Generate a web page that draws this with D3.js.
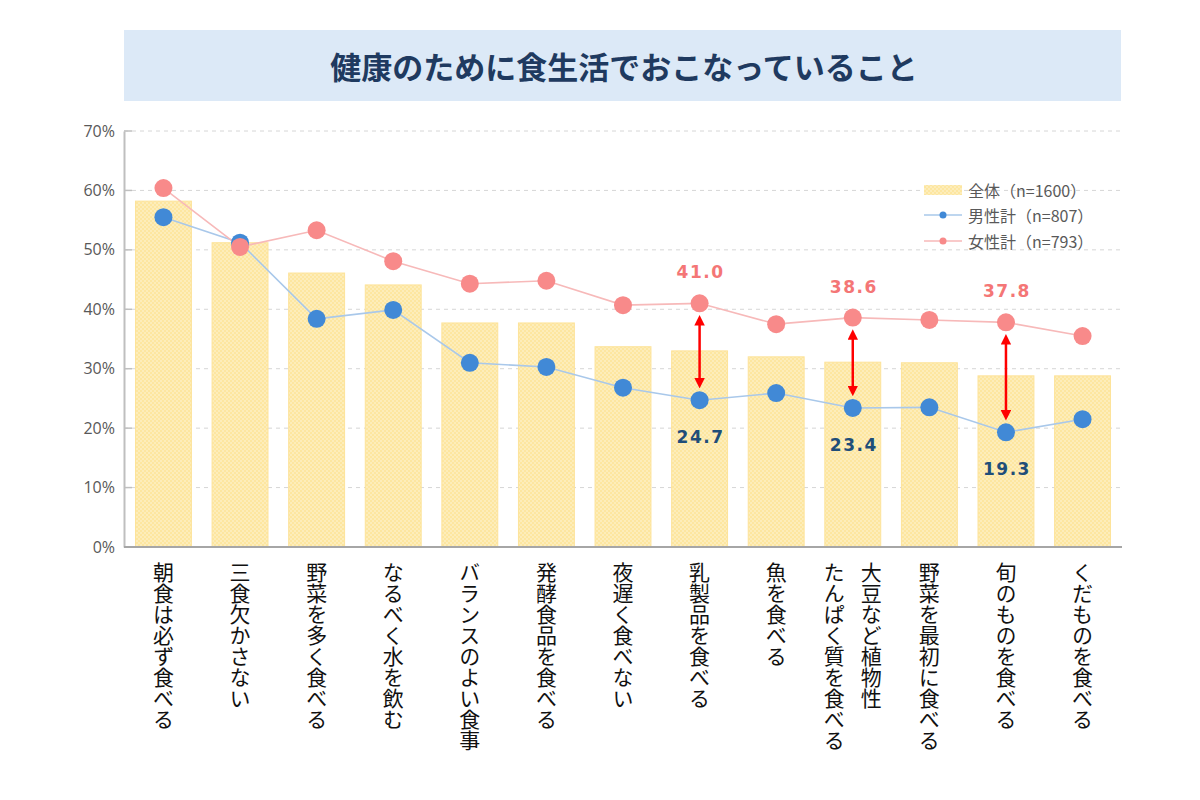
<!DOCTYPE html>
<html><head><meta charset="utf-8">
<script src="https://cdn.jsdelivr.net/npm/d3@7"></script>
<style>
body{margin:0;background:#fff;}
svg{display:block;}
</style></head>
<body>
<svg id="chart" width="1200" height="800"></svg>
<script>
const title = "健康のために食生活でおこなっていること";
const categories = [
  ["朝食は必ず食べる"],
  ["三食欠かさない"],
  ["野菜を多く食べる"],
  ["なるべく水を飲む"],
  ["バランスのよい食事"],
  ["発酵食品を食べる"],
  ["夜遅く食べない"],
  ["乳製品を食べる"],
  ["魚を食べる"],
  ["大豆など植物性","たんぱく質を食べる"],
  ["野菜を最初に食べる"],
  ["旬のものを食べる"],
  ["くだものを食べる"]
];
const totalValues = [58.2, 51.2, 46.1, 44.1, 37.7, 37.7, 33.7, 33.0, 32.0, 31.1, 31.0, 28.8, 28.8];
const maleValues   = [55.5, 51.2, 38.4, 39.9, 31.0, 30.3, 26.8, 24.7, 25.9, 23.4, 23.5, 19.3, 21.5];
const femaleValues = [60.4, 50.5, 53.3, 48.1, 44.3, 44.8, 40.7, 41.0, 37.5, 38.6, 38.2, 37.8, 35.5];
const highlighted = [7, 9, 11];
const yTicks = [0, 10, 20, 30, 40, 50, 60, 70];
const legendLabels = ["全体（n=1600）", "男性計（n=807）", "女性計（n=793）"];

const svg = d3.select("#chart");
const jp = "'Noto Sans CJK JP', 'Noto Sans', sans-serif";

// title box
svg.append("rect").attr("x",124).attr("y",30).attr("width",997).attr("height",71).attr("fill","#dce9f7");
svg.append("text").attr("x",624).attr("y",79).attr("text-anchor","middle")
  .attr("font-family",jp).attr("font-weight","bold").attr("font-size",31)
  .attr("fill","#1f3a60").text(title);

const pLeft=124, pRight=1122, pTop=131, pBottom=547;
const x = d3.scaleBand().domain(d3.range(categories.length)).range([pLeft,pRight]).paddingInner(0.27).paddingOuter(0.15);
const y = d3.scaleLinear().domain([0,70]).range([pBottom,pTop]);

// pattern
const defs = svg.append("defs");
const pat = defs.append("pattern").attr("id","dots").attr("width",4).attr("height",4).attr("patternUnits","userSpaceOnUse");
pat.append("rect").attr("width",4).attr("height",4).attr("fill","#fde6a0");
pat.append("circle").attr("cx",1).attr("cy",1).attr("r",0.8).attr("fill","#fff6dc");
pat.append("circle").attr("cx",3).attr("cy",3).attr("r",0.8).attr("fill","#fff6dc");

defs.append("marker").attr("id","arr").attr("viewBox","0 0 10 10")
  .attr("refX",5).attr("refY",5).attr("markerWidth",4.2).attr("markerHeight",4.2).attr("orient","auto-start-reverse")
  .attr("markerUnits","strokeWidth")
  .append("path").attr("d","M0,0 L10,5 L0,10 z").attr("fill","#ff0000");

// gridlines
svg.append("g").selectAll("line").data(yTicks.filter(d=>d>0)).join("line")
  .attr("x1",pLeft).attr("x2",pRight).attr("y1",d=>y(d)).attr("y2",d=>y(d))
  .attr("stroke","#d6d6d6").attr("stroke-dasharray","4,4").attr("stroke-width",1);

// y axis
const yAxis = d3.axisLeft(y).tickValues(yTicks).tickFormat(d=>d+"%").tickSize(0).tickPadding(9);
const ya = svg.append("g").attr("transform",`translate(${pLeft},0)`).call(yAxis);
ya.select(".domain").attr("stroke","#bfbfbf").attr("stroke-width",2);
ya.selectAll("text").attr("font-family","'Open Sans', sans-serif").attr("font-size",16).attr("fill","#595959");
svg.append("g").selectAll("line").data(yTicks).join("line")
  .attr("x1",pLeft).attr("x2",pLeft+8).attr("y1",d=>y(d)).attr("y2",d=>y(d)).attr("stroke","#bfbfbf").attr("stroke-width",1.5);

// bars
svg.append("g").selectAll("rect").data(totalValues).join("rect")
  .attr("x",(d,i)=>x(i)).attr("width",x.bandwidth())
  .attr("y",d=>y(d)).attr("height",d=>pBottom-y(d))
  .attr("fill","url(#dots)").attr("stroke","#fde39a").attr("stroke-width",1);

// bottom axis
svg.append("line").attr("x1",pLeft).attr("x2",pRight).attr("y1",pBottom).attr("y2",pBottom)
  .attr("stroke","#a6a6a6").attr("stroke-width",2);

const cx = i => x(i)+x.bandwidth()/2;
// lines
const line = d3.line().x((d,i)=>cx(i)).y(d=>y(d));
svg.append("path").datum(maleValues).attr("d",line).attr("fill","none").attr("stroke","#a9c8ea").attr("stroke-width",1.6);
svg.append("path").datum(femaleValues).attr("d",line).attr("fill","none").attr("stroke","#f7b9b9").attr("stroke-width",1.6);
svg.append("g").selectAll("circle").data(maleValues).join("circle")
  .attr("cx",(d,i)=>cx(i)).attr("cy",d=>y(d)).attr("r",9).attr("fill","#4189d6");
svg.append("g").selectAll("circle").data(femaleValues).join("circle")
  .attr("cx",(d,i)=>cx(i)).attr("cy",d=>y(d)).attr("r",9).attr("fill","#f88a8a");

// arrows and labels
highlighted.forEach(i=>{
  const yf = y(femaleValues[i]), ym = y(maleValues[i]);
  svg.append("line").attr("x1",cx(i)).attr("x2",cx(i)).attr("y1",yf+17).attr("y2",ym-17)
    .attr("stroke","#ff0000").attr("stroke-width",2.5)
    .attr("marker-start","url(#arr)").attr("marker-end","url(#arr)");
  svg.append("text").attr("x",cx(i)+1).attr("y",yf-25).attr("text-anchor","middle")
    .attr("font-family","'DejaVu Sans', sans-serif").attr("font-weight","bold").attr("font-size",17)
    .attr("letter-spacing",1.5).attr("fill","#f47676").text(femaleValues[i].toFixed(1));
  svg.append("text").attr("x",cx(i)+1).attr("y",ym+43).attr("text-anchor","middle")
    .attr("font-family","'DejaVu Sans', sans-serif").attr("font-weight","bold").attr("font-size",17)
    .attr("letter-spacing",1.5).attr("fill","#1f4e79").text(maleValues[i].toFixed(1));
});

// category labels (vertical)
categories.forEach((lines,i)=>{
  const n = lines.length;
  lines.forEach((t,j)=>{
    const off = (n-1)/2*37 - j*37;
    svg.append("text").attr("x",cx(i)+off).attr("y",562)
      .attr("writing-mode","vertical-rl").attr("font-family",jp).attr("font-size",21)
      .attr("fill","#111").text(t);
  });
});

// legend
const lg = svg.append("g");
const lx = 924, ly=[190,215,241];
lg.append("rect").attr("x",lx).attr("y",ly[0]-5).attr("width",38).attr("height",10).attr("fill","url(#dots)");
[["#a9c8ea","#4189d6"],["#f7b9b9","#f88a8a"]].forEach((c,k)=>{
  lg.append("line").attr("x1",lx).attr("x2",lx+38).attr("y1",ly[k+1]).attr("y2",ly[k+1]).attr("stroke",c[0]).attr("stroke-width",1.5);
  lg.append("circle").attr("cx",lx+19).attr("cy",ly[k+1]).attr("r",3.5).attr("fill",c[1]);
});
lg.selectAll("text.l").data(legendLabels).join("text").attr("class","l")
  .attr("x",lx+44).attr("y",(d,i)=>ly[i]).attr("dominant-baseline","central")
  .attr("font-family",jp).attr("font-size",16).attr("fill","#595959").text(d=>d);
</script>
</body></html>
